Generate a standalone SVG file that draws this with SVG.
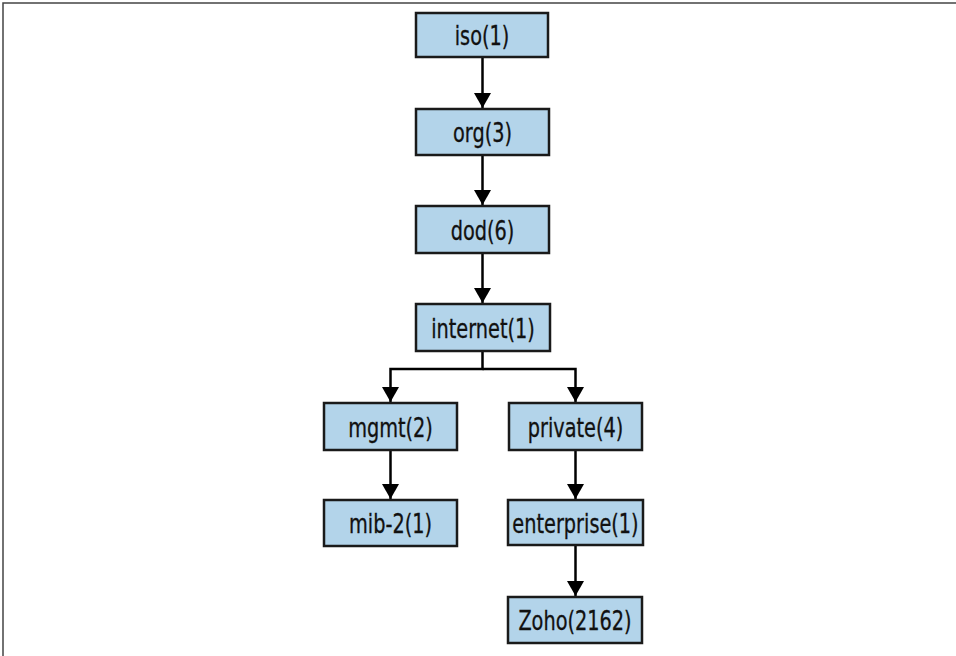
<svg xmlns="http://www.w3.org/2000/svg" width="956" height="656" viewBox="0 0 956 656">
<style>
.box{fill:#b3d4ea;stroke:#1a1a1a;stroke-width:2.5}
.lbl{font-family:"DejaVu Sans Condensed","Liberation Sans",sans-serif;font-size:26px;fill:#111;stroke:#111;stroke-width:0.3;text-anchor:middle}
.edge{fill:none;stroke:#000;stroke-width:2.5}
</style>
<defs>
<marker id="ah" markerUnits="userSpaceOnUse" markerWidth="16" markerHeight="17" viewBox="0 0 15 17" refX="15" refY="8.5" orient="auto">
<path d="M0,0 L15,8.5 L0,17 Z" fill="#000"/>
</marker>
</defs>
<rect width="956" height="656" fill="#fff"/>
<path d="M3,656 V3 H956" fill="none" stroke="#444" stroke-width="1.5"/>
<g id="connectors">
<path class="edge" d="M482.5,57 V108" marker-end="url(#ah)"/>
<path class="edge" d="M482.5,155 V205" marker-end="url(#ah)"/>
<path class="edge" d="M482.5,253 V303" marker-end="url(#ah)"/>
<path class="edge" d="M482.5,351 V369 H390.5 V402" marker-end="url(#ah)"/>
<path class="edge" d="M482.5,369 H575.5 V402" marker-end="url(#ah)"/>
<path class="edge" d="M390.5,450 V499" marker-end="url(#ah)"/>
<path class="edge" d="M575.5,450 V499" marker-end="url(#ah)"/>
<path class="edge" d="M575.5,545 V596" marker-end="url(#ah)"/>
</g>
<g id="iso"><rect class="box" x="416" y="13" width="132" height="44"/><text class="lbl" transform="translate(482,45) scale(0.825,1)">iso(1)</text></g>
<g id="org"><rect class="box" x="416" y="109" width="133" height="46"/><text class="lbl" transform="translate(482.5,142) scale(0.825,1)">org(3)</text></g>
<g id="dod"><rect class="box" x="416" y="206" width="133" height="47"/><text class="lbl" transform="translate(482.5,240) scale(0.825,1)">dod(6)</text></g>
<g id="internet"><rect class="box" x="416" y="304" width="134" height="47"/><text class="lbl" transform="translate(483,338) scale(0.825,1)">internet(1)</text></g>
<g id="mgmt"><rect class="box" x="324" y="403" width="133" height="47"/><text class="lbl" transform="translate(390.5,437) scale(0.825,1)">mgmt(2)</text></g>
<g id="private"><rect class="box" x="509" y="403" width="133" height="47"/><text class="lbl" transform="translate(575.5,437) scale(0.825,1)">private(4)</text></g>
<g id="mib-2"><rect class="box" x="324" y="500" width="133" height="46"/><text class="lbl" transform="translate(390.5,533) scale(0.825,1)">mib-2(1)</text></g>
<g id="enterprise"><rect class="box" x="508" y="500" width="135" height="45"/><text class="lbl" transform="translate(575.5,533) scale(0.825,1)">enterprise(1)</text></g>
<g id="zoho"><rect class="box" x="508" y="597" width="134" height="46"/><text class="lbl" transform="translate(575,630) scale(0.825,1)">Zoho(2162)</text></g>
</svg>
